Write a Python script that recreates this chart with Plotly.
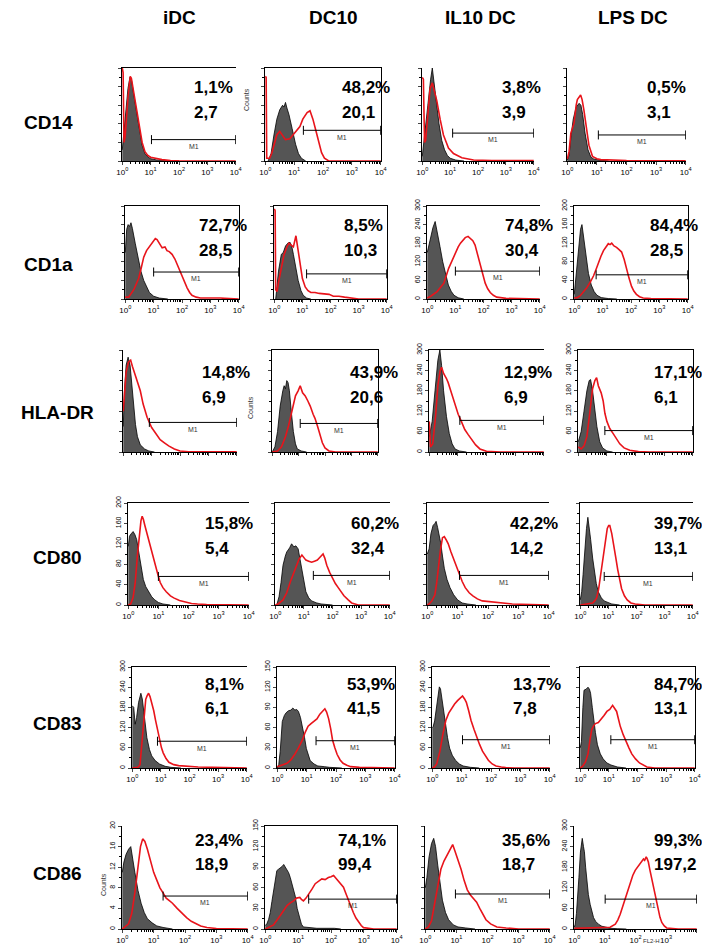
import math
import plotly.graph_objects as go

# ---------------------------------------------------------------------------
# Flow cytometry overlays: isotype control (grey, filled) vs. antibody (red)
# x values are log10 of fluorescence intensity, y values are event counts.
# ---------------------------------------------------------------------------

markers = ["CD14", "CD1a", "HLA-DR", "CD80", "CD83", "CD86"]
conditions = ["iDC", "DC10", "IL10 DC", "LPS DC"]

# % positive events inside gate M1 and mean fluorescence intensity
pct_m1 = [
    [1.1, 48.2, 3.8, 0.5],
    [72.7, 8.5, 74.8, 84.4],
    [14.8, 43.9, 12.9, 17.1],
    [15.8, 60.2, 42.2, 39.7],
    [8.1, 53.9, 13.7, 84.7],
    [23.4, 74.1, 35.6, 99.3],
]
mfi = [
    [2.7, 20.1, 3.9, 3.1],
    [28.5, 10.3, 30.4, 28.5],
    [6.9, 20.6, 6.9, 6.1],
    [5.4, 32.4, 14.2, 13.1],
    [6.1, 41.5, 7.8, 13.1],
    [18.9, 99.4, 18.7, 197.2],
]
# lower bound of gate M1 (fluorescence units); upper bound is 10^4
m1_gate_start = [
    [10.7, 20.9, 12.3, 11.2],
    [10.0, 14.1, 10.0, 5.9],
    [8.3, 11.5, 11.7, 8.5],
    [10.0, 21.4, 11.5, 7.1],
    [7.6, 20.9, 10.7, 11.7],
    [20.0, 20.9, 9.3, 10.2],
]
# full scale of the count axis
y_full_scale = [
    [100, 100, 100, 100],
    [100, 100, 300, 200],
    [100, 100, 300, 300],
    [200, 100, 100, 100],
    [300, 150, 300, 100],
    [20, 150, 100, 300],
]

# ---- CD14 ----
cd14_idc_iso = [(0, 12), (0.05, 30), (0.12, 55), (0.2, 78), (0.27, 90), (0.32, 88), (0.4, 72), (0.5, 52), (0.6, 33), (0.7, 17), (0.8, 8), (0.9, 4.5), (1.0, 2.5), (1.2, 1.2), (1.5, 0.4), (2, 0)]
cd14_idc_ab = [(0, 100), (0.03, 95), (0.06, 20), (0.1, 26), (0.2, 68), (0.28, 91), (0.32, 89), (0.4, 74), (0.5, 55), (0.6, 36), (0.7, 20), (0.8, 10), (0.9, 6), (1.0, 4), (1.2, 2.5), (1.4, 1.5), (1.7, 0.5), (2, 0.2), (4, 0)]
cd14_dc10_iso = [(0.1, 0), (0.2, 8), (0.3, 28), (0.4, 45), (0.5, 55), (0.6, 60), (0.65, 58), (0.7, 63), (0.75, 57), (0.82, 50), (0.93, 35), (1.05, 18), (1.15, 8), (1.25, 3), (1.4, 0)]
cd14_dc10_ab = [(0, 91), (0.03, 90), (0.05, 3), (0.15, 3), (0.22, 8), (0.3, 18), (0.4, 28), (0.5, 32), (0.6, 27), (0.7, 23), (0.85, 24), (0.95, 28), (1.05, 32), (1.2, 37), (1.3, 45), (1.45, 52), (1.55, 54), (1.65, 45), (1.75, 33), (1.85, 20), (1.95, 9), (2.05, 3), (2.2, 0), (4, 0)]
cd14_il10_iso = [(0, 5), (0.1, 30), (0.2, 60), (0.3, 88), (0.36, 100), (0.42, 85), (0.5, 62), (0.6, 40), (0.7, 22), (0.8, 12), (0.9, 6), (1.0, 3), (1.2, 1), (1.5, 0)]
cd14_il10_ab = [(0, 90), (0.04, 88), (0.08, 20), (0.12, 22), (0.2, 50), (0.28, 78), (0.36, 84), (0.44, 74), (0.52, 65), (0.64, 45), (0.76, 28), (0.94, 14), (1.12, 8), (1.42, 3.5), (1.84, 1), (2.5, 0.5), (4, 0.5)]
cd14_lps_iso = [(0, 1), (0.06, 6), (0.12, 25), (0.2, 45), (0.3, 58), (0.4, 62), (0.46, 60), (0.52, 50), (0.6, 30), (0.7, 12), (0.8, 4), (0.9, 2), (1.1, 1), (1.4, 0)]
cd14_lps_ab = [(0, 2), (0.06, 10), (0.12, 30), (0.23, 41), (0.3, 60), (0.34, 66), (0.45, 71), (0.5, 66), (0.56, 55), (0.62, 41), (0.73, 17), (0.85, 5), (1.0, 2.5), (1.13, 1.5), (1.5, 0.8), (2, 0.5), (4, 0.3)]

# ---- CD1a ----
cd1a_idc_iso = [(0, 50), (0.05, 75), (0.1, 80), (0.15, 78), (0.2, 82), (0.25, 76), (0.35, 60), (0.45, 45), (0.55, 30), (0.65, 20), (0.75, 13), (0.85, 7), (1.0, 3), (1.2, 1), (1.5, 0)]
cd1a_idc_ab = [(0, 2), (0.12, 2), (0.3, 10), (0.47, 22), (0.56, 33), (0.65, 45), (0.75, 52), (0.82, 55), (0.9, 59), (1.0, 62), (1.06, 65), (1.12, 64), (1.2, 60), (1.3, 55), (1.4, 56), (1.47, 52), (1.55, 51), (1.65, 48), (1.75, 43), (1.82, 38), (1.9, 31), (2.0, 24), (2.1, 17), (2.18, 12), (2.27, 7), (2.35, 4), (2.5, 2), (2.65, 1), (3.35, 1), (4, 0)]
cd1a_dc10_iso = [(0.05, 0), (0.08, 10), (0.15, 30), (0.25, 48), (0.32, 50), (0.4, 57), (0.48, 60), (0.56, 61), (0.62, 57), (0.68, 48), (0.75, 35), (0.85, 20), (0.95, 9), (1.03, 4), (1.15, 1), (1.3, 0)]
cd1a_dc10_ab = [(0, 97), (0.03, 95), (0.05, 10), (0.1, 8), (0.15, 18), (0.25, 33), (0.35, 48), (0.45, 56), (0.52, 60), (0.6, 58), (0.68, 56), (0.77, 68), (0.82, 58), (0.9, 40), (1.0, 22), (1.1, 13), (1.2, 9), (1.3, 7), (1.45, 7), (1.6, 6), (1.8, 5), (1.95, 5), (2.1, 3), (2.3, 3), (2.5, 2), (2.7, 1), (3, 0), (4, 0)]
cd1a_il10_iso = [(0, 150), (0.1, 190), (0.2, 230), (0.28, 250), (0.35, 220), (0.45, 170), (0.55, 120), (0.65, 78), (0.75, 45), (0.85, 25), (0.95, 12), (1.1, 4), (1.3, 0)]
cd1a_il10_ab = [(0, 3), (0.12, 9), (0.35, 24), (0.59, 51), (0.76, 99), (0.88, 125), (1.0, 150), (1.1, 168), (1.18, 180), (1.27, 190), (1.35, 198), (1.45, 202), (1.53, 196), (1.62, 188), (1.7, 174), (1.8, 140), (1.88, 108), (1.97, 78), (2.06, 51), (2.15, 33), (2.24, 21), (2.35, 12), (2.47, 6), (2.8, 2), (4, 0)]
cd1a_lps_iso = [(0, 10), (0.08, 60), (0.15, 110), (0.22, 150), (0.27, 160), (0.33, 135), (0.4, 95), (0.5, 55), (0.6, 30), (0.7, 16), (0.8, 8), (0.95, 3), (1.2, 1), (1.5, 0)]
cd1a_lps_ab = [(0, 2), (0.1, 3), (0.21, 7), (0.33, 15), (0.44, 24), (0.56, 36), (0.68, 50), (0.77, 64), (0.85, 78), (0.94, 92), (1.03, 104), (1.12, 113), (1.2, 119), (1.26, 117), (1.32, 120), (1.4, 114), (1.49, 111), (1.58, 106), (1.67, 101), (1.76, 85), (1.84, 64), (1.93, 45), (2.02, 27), (2.1, 17), (2.19, 10), (2.3, 5), (2.43, 2), (2.7, 1), (4, 0)]

# ---- HLA-DR ----
hla_idc_iso = [(0, 25), (0.04, 60), (0.1, 85), (0.17, 93), (0.24, 85), (0.31, 65), (0.37, 45), (0.43, 27), (0.5, 15), (0.6, 7), (0.75, 3), (0.9, 1), (1.1, 0)]
hla_idc_ab = [(0, 40), (0.05, 60), (0.1, 78), (0.18, 88), (0.26, 90), (0.32, 84), (0.4, 77), (0.5, 70), (0.6, 60), (0.7, 47), (0.84, 34), (1.0, 24), (1.1, 20), (1.2, 15), (1.3, 12), (1.45, 9), (1.6, 6), (1.8, 3), (2.0, 1), (2.3, 0.3), (4, 0.2)]
hla_dc10_iso = [(0, 0), (0.1, 5), (0.2, 20), (0.3, 45), (0.4, 60), (0.45, 65), (0.5, 62), (0.55, 70), (0.6, 68), (0.65, 60), (0.72, 40), (0.8, 20), (0.88, 8), (0.95, 3), (1.1, 1), (1.3, 0)]
hla_dc10_ab = [(0, 0), (0.2, 1), (0.35, 5), (0.5, 15), (0.62, 26), (0.75, 42), (0.88, 55), (0.98, 60), (1.06, 65), (1.15, 58), (1.25, 55), (1.35, 50), (1.44, 45), (1.55, 37), (1.62, 33), (1.72, 25), (1.81, 17), (1.9, 9), (2.0, 4), (2.15, 1), (2.4, 0), (4, 0)]
hla_il10_iso = [(0, 45), (0.1, 90), (0.2, 180), (0.3, 270), (0.37, 300), (0.43, 255), (0.5, 180), (0.6, 105), (0.7, 54), (0.8, 24), (0.9, 9), (1.05, 3), (1.3, 0)]
hla_il10_ab = [(0, 90), (0.04, 15), (0.12, 24), (0.22, 105), (0.3, 195), (0.38, 240), (0.43, 249), (0.5, 231), (0.6, 216), (0.66, 204), (0.75, 180), (0.84, 156), (0.93, 132), (1.01, 111), (1.12, 90), (1.24, 66), (1.36, 51), (1.48, 36), (1.62, 21), (1.77, 9), (2.0, 2), (2.5, 0), (4, 0)]
hla_lps_iso = [(0, 30), (0.1, 60), (0.2, 120), (0.3, 180), (0.38, 210), (0.43, 213), (0.5, 180), (0.58, 126), (0.65, 75), (0.75, 30), (0.85, 12), (1.0, 3), (1.2, 0)]
hla_lps_ab = [(0, 15), (0.1, 9), (0.2, 18), (0.3, 45), (0.4, 114), (0.5, 186), (0.58, 210), (0.64, 219), (0.7, 195), (0.8, 174), (0.87, 150), (0.93, 114), (1.0, 90), (1.1, 69), (1.22, 54), (1.35, 36), (1.45, 24), (1.6, 12), (1.8, 5), (2.1, 1), (2.5, 0), (4, 0)]

# ---- CD80 ----
cd80_idc_iso = [(0, 115), (0.04, 135), (0.1, 140), (0.16, 144), (0.22, 138), (0.28, 128), (0.33, 110), (0.38, 90), (0.44, 68), (0.5, 50), (0.58, 36), (0.68, 26), (0.78, 16), (0.88, 10), (1.0, 5), (1.15, 2), (1.4, 0)]
cd80_idc_ab = [(0, 0), (0.08, 2), (0.16, 15), (0.23, 44), (0.3, 95), (0.36, 137), (0.42, 165), (0.46, 174), (0.5, 168), (0.55, 156), (0.62, 140), (0.68, 125), (0.75, 110), (0.81, 94), (0.88, 80), (0.94, 69), (1.0, 56), (1.06, 44), (1.15, 34), (1.26, 26), (1.4, 18), (1.51, 14), (1.7, 9), (1.9, 6), (2.1, 3), (2.3, 2), (2.6, 1), (4, 0)]
cd80_dc10_iso = [(0.05, 0), (0.13, 8), (0.2, 22), (0.27, 39), (0.35, 48), (0.4, 52), (0.5, 56), (0.57, 60), (0.65, 57), (0.72, 58), (0.8, 55), (0.87, 45), (0.93, 36), (1.0, 24), (1.07, 13), (1.17, 7), (1.27, 4), (1.45, 2), (1.6, 1), (2, 0)]
cd80_dc10_ab = [(0, 0), (0.1, 1), (0.27, 5), (0.4, 12), (0.53, 23), (0.63, 31), (0.73, 39), (0.83, 45), (0.93, 49), (1.0, 47), (1.07, 44), (1.17, 43), (1.27, 42), (1.37, 43), (1.47, 44), (1.57, 47), (1.67, 50), (1.73, 46), (1.8, 39), (1.9, 32), (2.0, 26), (2.1, 21), (2.2, 17), (2.3, 13), (2.4, 9), (2.55, 5), (2.67, 2), (2.9, 0), (4, 0)]
cd80_il10_iso = [(0, 50), (0.06, 55), (0.12, 70), (0.19, 78), (0.25, 80), (0.29, 82), (0.34, 76), (0.4, 68), (0.44, 61), (0.5, 48), (0.56, 36), (0.65, 25), (0.75, 17), (0.87, 10), (1.0, 5), (1.15, 2), (1.31, 1), (1.6, 0)]
cd80_il10_ab = [(0, 0), (0.06, 1), (0.15, 4), (0.25, 10), (0.31, 22), (0.37, 39), (0.43, 53), (0.5, 66), (0.56, 67), (0.62, 64), (0.69, 60), (0.78, 52), (0.87, 45), (0.96, 37), (1.06, 29), (1.15, 23), (1.25, 17), (1.38, 12), (1.5, 9), (1.65, 6), (1.81, 4), (2.1, 3), (2.44, 2), (2.8, 1), (4, 0)]
cd80_lps_iso = [(0, 5), (0.05, 13), (0.1, 30), (0.16, 54), (0.22, 75), (0.27, 86), (0.32, 76), (0.37, 64), (0.44, 46), (0.51, 32), (0.57, 21), (0.64, 13), (0.75, 7), (0.85, 4), (1.0, 2), (1.12, 1), (1.4, 0)]
cd80_lps_ab = [(0, 0), (0.3, 1), (0.44, 2), (0.51, 4), (0.58, 7), (0.65, 15), (0.71, 26), (0.78, 40), (0.85, 54), (0.91, 66), (0.96, 75), (1.01, 78), (1.05, 78), (1.12, 70), (1.19, 60), (1.26, 47), (1.33, 35), (1.4, 24), (1.47, 16), (1.57, 9), (1.67, 5), (1.8, 2), (1.95, 1), (2.3, 0), (4, 0)]

# ---- CD83 ----
cd83_idc_iso = [(0, 185), (0.05, 180), (0.1, 130), (0.15, 150), (0.22, 195), (0.3, 222), (0.35, 205), (0.41, 165), (0.46, 125), (0.51, 90), (0.6, 55), (0.68, 36), (0.8, 22), (0.95, 12), (1.15, 5), (1.35, 2), (1.7, 0)]
cd83_idc_ab = [(0, 0), (0.2, 2), (0.27, 10), (0.32, 60), (0.38, 129), (0.43, 175), (0.47, 204), (0.52, 215), (0.57, 222), (0.62, 212), (0.68, 194), (0.75, 170), (0.81, 143), (0.88, 112), (0.95, 82), (1.02, 60), (1.08, 45), (1.18, 28), (1.28, 17), (1.45, 10), (1.62, 7), (1.9, 5), (2.3, 3), (2.8, 2), (3.3, 1), (4, 0)]
cd83_dc10_iso = [(0, 0), (0.05, 5), (0.1, 25), (0.17, 69), (0.24, 78), (0.3, 82), (0.38, 85), (0.46, 86), (0.53, 89), (0.6, 86), (0.66, 87), (0.72, 84), (0.79, 75), (0.86, 62), (0.93, 45), (0.99, 29), (1.06, 18), (1.12, 11), (1.25, 6), (1.38, 3), (1.6, 2), (1.78, 1), (2.2, 0)]
cd83_dc10_ab = [(0, 2), (0.07, 3), (0.2, 5), (0.33, 7), (0.46, 12), (0.59, 20), (0.72, 30), (0.86, 42), (0.95, 53), (1.05, 62), (1.15, 66), (1.25, 69), (1.35, 73), (1.45, 80), (1.55, 85), (1.62, 88), (1.68, 83), (1.75, 73), (1.82, 58), (1.88, 42), (1.96, 30), (2.04, 20), (2.14, 12), (2.24, 7), (2.37, 4), (2.5, 2), (2.8, 1), (4, 0)]
cd83_il10_iso = [(0, 120), (0.03, 123), (0.08, 140), (0.13, 168), (0.18, 205), (0.24, 241), (0.28, 235), (0.33, 204), (0.4, 160), (0.46, 123), (0.52, 90), (0.59, 59), (0.68, 38), (0.79, 23), (0.92, 12), (1.05, 6), (1.3, 2), (1.6, 0)]
cd83_il10_ab = [(0, 0), (0.07, 3), (0.15, 12), (0.26, 50), (0.36, 100), (0.46, 141), (0.56, 163), (0.66, 177), (0.76, 190), (0.86, 200), (0.95, 207), (1.03, 214), (1.1, 205), (1.16, 195), (1.24, 170), (1.32, 141), (1.42, 115), (1.51, 91), (1.61, 70), (1.71, 50), (1.81, 35), (1.91, 23), (2.04, 12), (2.17, 6), (2.35, 3), (2.5, 1), (2.8, 0), (4, 0)]
cd83_lps_iso = [(0, 20), (0.04, 26), (0.09, 60), (0.13, 77), (0.2, 78), (0.27, 80), (0.32, 78), (0.36, 74), (0.42, 60), (0.47, 47), (0.53, 35), (0.6, 23), (0.7, 14), (0.8, 9), (0.93, 5), (1.07, 3), (1.3, 1), (1.6, 0)]
cd83_lps_ab = [(0, 0), (0.09, 2), (0.18, 6), (0.27, 14), (0.34, 28), (0.4, 38), (0.47, 42), (0.53, 44), (0.63, 45), (0.73, 48), (0.83, 52), (0.93, 56), (1.03, 58), (1.13, 62), (1.2, 59), (1.27, 56), (1.33, 49), (1.4, 41), (1.5, 33), (1.6, 26), (1.7, 20), (1.8, 14), (1.93, 9), (2.07, 5), (2.2, 3), (2.33, 1), (2.6, 0), (4, 0)]

# ---- CD86 ----
cd86_idc_iso = [(0, 11), (0.05, 13), (0.12, 14.5), (0.2, 15.5), (0.27, 16), (0.33, 14), (0.4, 11), (0.5, 7.5), (0.6, 5), (0.7, 3.2), (0.8, 2), (0.95, 1.2), (1.1, 0.6), (1.3, 0.3), (1.6, 0)]
cd86_idc_ab = [(0, 0), (0.2, 1), (0.3, 3), (0.4, 7), (0.5, 12), (0.58, 16), (0.65, 17.5), (0.72, 17), (0.8, 15.5), (0.9, 13), (1.0, 11), (1.1, 9.5), (1.2, 8), (1.3, 7), (1.4, 6), (1.5, 5.5), (1.6, 5), (1.75, 4), (1.9, 3), (2.05, 2.2), (2.2, 1.5), (2.35, 1), (2.5, 0.6), (2.7, 0.3), (3.0, 0.1), (4, 0)]
cd86_dc10_iso = [(0, 5), (0.05, 8), (0.1, 14), (0.15, 24), (0.2, 40), (0.25, 57), (0.3, 72), (0.35, 85), (0.4, 87), (0.46, 89), (0.51, 91), (0.56, 94), (0.61, 90), (0.66, 88), (0.71, 82), (0.76, 75), (0.83, 62), (0.91, 48), (0.97, 30), (1.04, 15), (1.1, 7), (1.16, 3), (1.3, 2), (1.57, 1), (2.1, 1), (2.3, 0)]
cd86_dc10_ab = [(0, 0), (0.05, 1), (0.25, 6), (0.46, 20), (0.56, 27), (0.66, 34), (0.76, 38), (0.86, 41), (0.95, 45), (1.05, 46), (1.1, 43), (1.16, 41), (1.24, 45), (1.32, 50), (1.42, 58), (1.52, 66), (1.62, 70), (1.72, 73), (1.82, 72), (1.92, 75), (2.0, 76), (2.08, 78), (2.15, 74), (2.23, 70), (2.3, 66), (2.38, 61), (2.45, 52), (2.53, 42), (2.6, 33), (2.68, 24), (2.76, 16), (2.84, 10), (2.92, 5), (2.99, 2), (3.1, 1), (3.3, 0), (4, 0)]
cd86_il10_iso = [(0, 40), (0.05, 50), (0.12, 70), (0.2, 83), (0.27, 88), (0.33, 80), (0.4, 62), (0.48, 42), (0.55, 28), (0.65, 16), (0.75, 9), (0.9, 4), (1.05, 2), (1.3, 1), (1.6, 0)]
cd86_il10_ab = [(0, 0), (0.1, 2), (0.2, 8), (0.3, 25), (0.4, 45), (0.5, 58), (0.6, 66), (0.7, 72), (0.8, 78), (0.88, 82), (0.95, 76), (1.05, 68), (1.15, 58), (1.25, 47), (1.35, 38), (1.45, 33), (1.55, 30), (1.65, 26), (1.75, 20), (1.85, 14), (1.95, 9), (2.1, 5), (2.3, 2), (2.6, 1), (3, 0), (4, 0)]
cd86_lps_iso = [(0, 5), (0.03, 14), (0.07, 45), (0.11, 90), (0.15, 150), (0.2, 224), (0.23, 250), (0.26, 264), (0.3, 240), (0.33, 225), (0.37, 180), (0.41, 138), (0.46, 100), (0.52, 71), (0.57, 50), (0.63, 33), (0.7, 22), (0.79, 14), (0.9, 8), (1.01, 5), (1.2, 2), (1.4, 1), (1.7, 0)]
cd86_lps_ab = [(0, 2), (0.5, 3), (1.0, 3), (1.17, 5), (1.34, 14), (1.42, 26), (1.5, 43), (1.58, 65), (1.66, 90), (1.75, 115), (1.83, 138), (1.91, 156), (1.99, 171), (2.06, 180), (2.13, 186), (2.2, 195), (2.26, 204), (2.3, 200), (2.35, 210), (2.38, 205), (2.42, 195), (2.47, 172), (2.53, 148), (2.58, 124), (2.64, 100), (2.7, 75), (2.75, 52), (2.8, 34), (2.86, 19), (2.94, 9), (3.02, 3), (3.2, 1), (3.4, 0), (4, 0)]

histograms = [
    [(cd14_idc_iso, cd14_idc_ab), (cd14_dc10_iso, cd14_dc10_ab), (cd14_il10_iso, cd14_il10_ab), (cd14_lps_iso, cd14_lps_ab)],
    [(cd1a_idc_iso, cd1a_idc_ab), (cd1a_dc10_iso, cd1a_dc10_ab), (cd1a_il10_iso, cd1a_il10_ab), (cd1a_lps_iso, cd1a_lps_ab)],
    [(hla_idc_iso, hla_idc_ab), (hla_dc10_iso, hla_dc10_ab), (hla_il10_iso, hla_il10_ab), (hla_lps_iso, hla_lps_ab)],
    [(cd80_idc_iso, cd80_idc_ab), (cd80_dc10_iso, cd80_dc10_ab), (cd80_il10_iso, cd80_il10_ab), (cd80_lps_iso, cd80_lps_ab)],
    [(cd83_idc_iso, cd83_idc_ab), (cd83_dc10_iso, cd83_dc10_ab), (cd83_il10_iso, cd83_il10_ab), (cd83_lps_iso, cd83_lps_ab)],
    [(cd86_idc_iso, cd86_idc_ab), (cd86_dc10_iso, cd86_dc10_ab), (cd86_il10_iso, cd86_il10_ab), (cd86_lps_iso, cd86_lps_ab)],
]

# ---------------------------------------------------------------------------
# Layout (pixel geometry of each panel on a 702 x 946 page)
# ---------------------------------------------------------------------------
W, H = 702, 946
panel_left = [[122, 265, 422, 567], [125, 274, 427, 574], [123, 272, 429, 578],
              [128, 275, 427, 580], [132, 277, 432, 580], [122, 265, 425, 574]]
panel_right = [[236, 381, 534, 686], [239, 387, 540, 688], [237, 378, 544, 693],
               [249, 390, 549, 693], [247, 395, 550, 695], [248, 397, 550, 697]]
row_top = [68, 206, 350, 503, 667, 826]
row_bottom = [161, 299, 452, 605, 768, 929]
frames = [["top", "box", "none", "none"], ["box", "box", "top", "box"], ["none", "box", "top", "box"],
          ["top", "top", "top", "top"], ["top", "box", "top", "box"], ["none", "box", "none", "none"]]
y_labelled = [[False, False, False, False], [False, False, True, True], [False, False, True, True],
              [True, False, False, False], [True, True, True, False], [True, True, False, True]]
m1_level = [[0.23, 0.33, 0.30, 0.28], [0.29, 0.27, 0.30, 0.26], [0.29, 0.28, 0.31, 0.21],
            [0.28, 0.29, 0.29, 0.28], [0.265, 0.27, 0.28, 0.28], [0.32, 0.29, 0.34, 0.29]]
text_left = [[192, 340, 500, 645], [197, 342, 503, 648], [200, 348, 502, 652],
             [203, 349, 508, 652], [203, 345, 511, 652], [193, 336, 500, 652]]
text_y_pct = [88, 225, 372, 523, 684, 840]
text_y_mfi = [112, 250, 397, 548, 708, 864]
header_x = [180, 333, 480, 633]
row_label_pos = [(48, 122), (48, 265), (57, 412), (57, 557), (58, 723), (58, 873)]

RED = "#e8141b"
GREY_FILL = "#555555"
FONT = "Liberation Sans, Arial, sans-serif"


def px(x):
    return x / W


def py(y):
    return 1 - y / H


def fmt(v):
    return f"{v:.1f}".replace(".", ",")


x_major = [1, 10, 100, 1000, 10000]
x_major_text = [f"10<sup>{k}</sup>" for k in range(5)]
x_minor = [m * 10 ** k for k in range(4) for m in range(2, 10)]

fig = go.Figure()
layout = dict(
    width=W, height=H, margin=dict(l=0, r=0, t=0, b=0, pad=0), autosize=False,
    paper_bgcolor="white", plot_bgcolor="white", showlegend=False,
    font=dict(family=FONT, color="black"),
)
annotations = []

for r in range(6):
    for c in range(4):
        k = r * 4 + c + 1
        xa, ya = ("x", "y") if k == 1 else (f"x{k}", f"y{k}")
        xkey, ykey = ("xaxis", "yaxis") if k == 1 else (f"xaxis{k}", f"yaxis{k}")
        ymax = y_full_scale[r][c]
        iso, ab = histograms[r][c]
        top, bot = row_top[r], row_bottom[r]
        left, right = panel_left[r][c], panel_right[r][c]

        fig.add_trace(go.Scatter(
            x=[10 ** d for d, _ in iso], y=[v for _, v in iso], xaxis=xa, yaxis=ya,
            mode="lines", line=dict(color="black", width=0.8), fill="tozeroy",
            fillcolor=GREY_FILL, hoverinfo="skip"))
        fig.add_trace(go.Scatter(
            x=[10 ** d for d, _ in ab], y=[v for _, v in ab], xaxis=xa, yaxis=ya,
            mode="lines", line=dict(color=RED, width=1.6), hoverinfo="skip"))

        # gate M1 marker
        s, e = m1_gate_start[r][c], 10000
        lvl = m1_level[r][c] * ymax
        half = 4.5 / (bot - top) * ymax
        fig.add_trace(go.Scatter(
            x=[s, s, None, s, e, None, e, e],
            y=[lvl - half, lvl + half, None, lvl, lvl, None, lvl - half, lvl + half],
            xaxis=xa, yaxis=ya, mode="lines", line=dict(color="black", width=1),
            hoverinfo="skip", cliponaxis=False))
        annotations.append(dict(
            x=0.5 * (math.log10(s) + 4), y=lvl - half * 0.3, xref=xa, yref=ya,
            text="M1", showarrow=False, xanchor="center", yanchor="top",
            font=dict(size=7, color="#333")))

        frame = frames[r][c]
        layout[xkey] = dict(
            domain=[px(left), px(right)], anchor=ya, type="log", range=[-0.01, 4.01],
            automargin=False,
            showline=True, linecolor="black", linewidth=1, mirror=frame in ("top", "box"),
            showgrid=False, zeroline=False, ticks="outside", ticklen=3, tickwidth=1,
            tickvals=x_major, ticktext=x_major_text, showticklabels=(r != 2),
            tickfont=dict(size=8, family=FONT),
            minor=dict(tickvals=x_minor, ticks="outside", ticklen=2, tickwidth=0.8, tickcolor="black"),
        )
        layout[ykey] = dict(
            domain=[py(bot), py(top)], anchor=xa, range=[0, ymax],
            automargin=False,
            showline=True, linecolor="black", linewidth=1, mirror=frame == "box",
            showgrid=False, zeroline=False, ticks="outside", ticklen=3, tickwidth=1,
            tickvals=[ymax * i / 5 for i in range(6)],
            ticktext=[f"{ymax * i / 5:g}" for i in range(6)],
            showticklabels=y_labelled[r][c], tickangle=-90,
            tickfont=dict(size=7, family=FONT),
            minor=dict(tickmode="linear", tick0=0, dtick=ymax / 10, ticks="outside",
                       ticklen=2, tickwidth=0.8, tickcolor="black"),
        )

        # % positive in M1 and MFI
        annotations.append(dict(
            x=px(text_left[r][c]), y=py(text_y_pct[r]), xref="paper", yref="paper",
            text=f"<b>{fmt(pct_m1[r][c])}%</b>", showarrow=False, xanchor="left",
            yanchor="middle", font=dict(size=17, family=FONT)))
        annotations.append(dict(
            x=px(text_left[r][c]), y=py(text_y_mfi[r]), xref="paper", yref="paper",
            text=f"<b>{fmt(mfi[r][c])}</b>", showarrow=False, xanchor="left",
            yanchor="middle", font=dict(size=17, family=FONT)))

for c, name in enumerate(conditions):
    annotations.append(dict(x=px(header_x[c]), y=py(18), xref="paper", yref="paper",
                            text=f"<b>{name}</b>", showarrow=False,
                            xanchor="center", yanchor="middle",
                            font=dict(size=19, family=FONT)))
for r, name in enumerate(markers):
    lx, ly = row_label_pos[r]
    annotations.append(dict(x=px(lx), y=py(ly), xref="paper", yref="paper",
                            text=f"<b>{name}</b>", showarrow=False,
                            xanchor="center", yanchor="middle",
                            font=dict(size=19, family=FONT)))

# axis captions
for cx, cy in [(247, 100), (250, 408), (103, 884)]:
    annotations.append(dict(x=px(cx), y=py(cy), xref="paper", yref="paper", text="Counts",
                            textangle=-90, showarrow=False, xanchor="center", yanchor="middle",
                            font=dict(size=7, color="#333")))
annotations.append(dict(x=px(651), y=py(946), xref="paper", yref="paper", text="FL2-H",
                        showarrow=False, xanchor="center", yanchor="bottom",
                        font=dict(size=6, color="#333")))

layout["annotations"] = annotations
fig.update_layout(**layout)
fig.write_html("out.html")
